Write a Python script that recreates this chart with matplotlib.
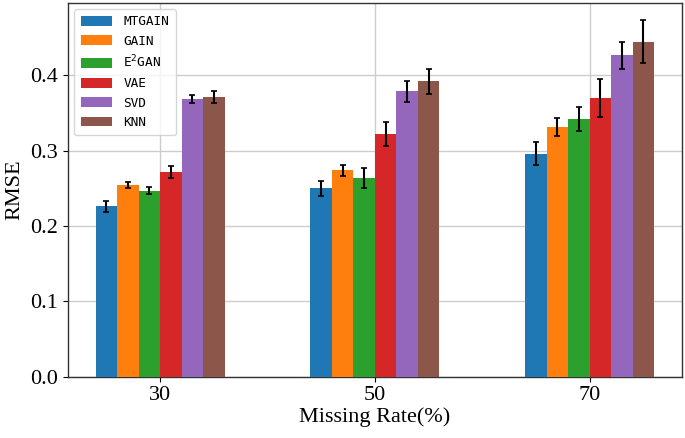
import numpy as np
import matplotlib
matplotlib.use("Agg")
import matplotlib.pyplot as plt

# 데이터
rates = ["30", "50", "70"]
methods = ["MTGAIN", "GAIN", "E$^2$GAN", "VAE", "SVD", "KNN"]

mtgain = [0.226, 0.250, 0.296]
gain = [0.254, 0.274, 0.332]
e2gan = [0.247, 0.264, 0.342]
vae = [0.272, 0.322, 0.370]
svd = [0.369, 0.379, 0.427]
knn = [0.371, 0.392, 0.445]

mtgain_err = [0.007, 0.010, 0.0155]
gain_err = [0.004, 0.007, 0.012]
e2gan_err = [0.005, 0.013, 0.016]
vae_err = [0.008, 0.016, 0.025]
svd_err = [0.005, 0.014, 0.018]
knn_err = [0.008, 0.017, 0.028]

values = [mtgain, gain, e2gan, vae, svd, knn]
errors = [mtgain_err, gain_err, e2gan_err, vae_err, svd_err, knn_err]
colors = ["#1f77b4", "#ff7f0e", "#2ca02c", "#d62728", "#9467bd", "#8c564b"]

fig = plt.figure(figsize=(6.85, 4.38), dpi=100)
ax = fig.add_axes([0.099, 0.14, 0.8966, 0.854])

x = np.arange(len(rates))
w = 0.1
for i in range(len(methods)):
    ax.bar(x + (i - 2.5) * w, values[i], w, yerr=errors[i], color=colors[i],
           label=methods[i], capsize=2.5, zorder=3,
           error_kw=dict(ecolor="black", elinewidth=1.5, capthick=1.2, zorder=4))

ax.set_xticks(x)
ax.set_xticklabels(rates)
ax.grid(True, color="#cccccc", linewidth=1.0, zorder=0)
ax.set_axisbelow(True)

for s in ax.spines.values():
    s.set_color("#333333")
    s.set_linewidth(1.0)

ax.tick_params(labelsize=16)
for lab in ax.get_xticklabels() + ax.get_yticklabels():
    lab.set_fontfamily("Liberation Serif")
ax.set_xlabel("Missing Rate(%)", fontsize=16, family="Liberation Serif", labelpad=1)
ax.set_ylabel("RMSE", fontsize=16, family="Liberation Serif", labelpad=4)

leg = ax.legend(loc="upper left", prop={"family": "DejaVu Sans Mono", "size": 9.2},
                handlelength=2.45, handleheight=0.8, labelspacing=0.5,
                borderpad=0.5, handletextpad=0.9)
leg.set_zorder(5)

fig.savefig("out.png", dpi=100)
